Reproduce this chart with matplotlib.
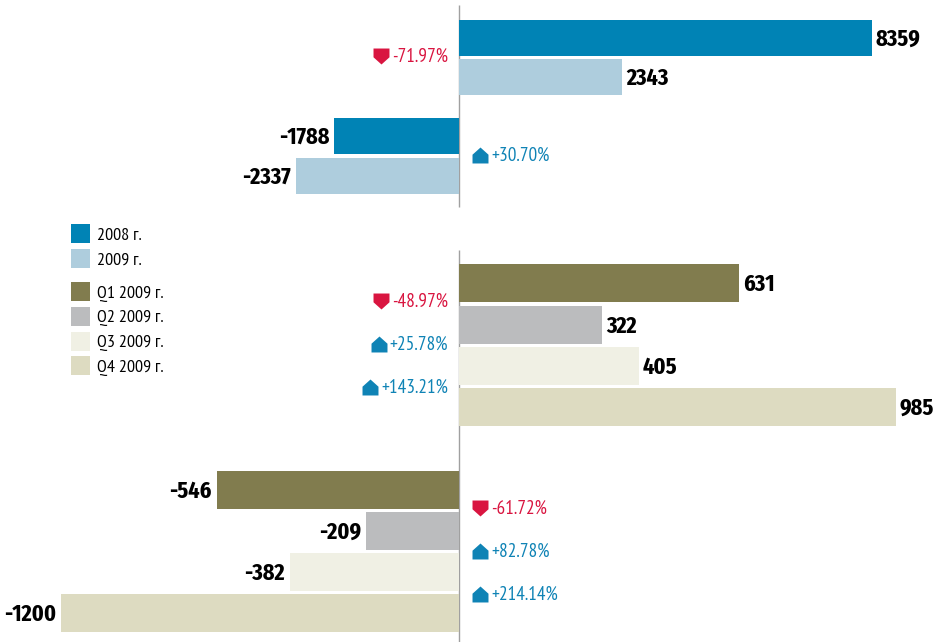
import numpy as np
import matplotlib
matplotlib.use("Agg")
import matplotlib.pyplot as plt
from matplotlib import font_manager as fm
from matplotlib.patches import Patch
from matplotlib.path import Path

# ==============================================================================
# annual results: printed values and the bar lengths as drawn in the picture
annual_values = [8359, 2343, -1788, -2337]
annual_lengths = [5925, 2343, -1788, -2337]
annual_changes = ["-71.97%", "+30.70%"]
annual_legend = ["2008 г.", "2009 г."]

# quarterly results
quarter_values = [631, 322, 405, 985, -546, -209, -382, -1200]
quarter_lengths = [631, 322, 405, 985, -546, -209, -382, -898]
quarter_changes = ["-48.97%", "+25.78%", "+143.21%", "-61.72%", "+82.78%", "+214.14%"]
quarter_legend = ["Q1 2009 г.", "Q2 2009 г.", "Q3 2009 г.", "Q4 2009 г."]

# ==============================================================================
W, H = 939, 642
ZERO_X = 459
BLUE = "#0083b5"
LIGHT_BLUE = "#aecddd"
QUARTER_COLORS = ["#817c4e", "#bbbcbe", "#f0f0e4", "#dddbc1"]
RED = "#d91540"
CHANGE_BLUE = "#0f83b5"
installed = {f.name for f in fm.fontManager.ttflist}
FONT = [f for f in ["PT Sans Narrow", "Roboto Condensed", "Liberation Sans"] if f in installed]
BOLD_FONT = [f for f in ["Fira Sans Extra Condensed", "PT Sans Narrow", "Liberation Sans"] if f in installed]

DOWN = Path([(-1, 1), (1, 1), (1, -0.1), (0, -1), (-1, -0.1), (-1, 1)], closed=True)
UP = Path([(-1, -1), (1, -1), (1, 0.1), (0, 1), (-1, 0.1), (-1, -1)], closed=True)


def make_axes(fig, px_per_unit):
    ax = fig.add_axes([0, 0, 1, 1])
    ax.patch.set_alpha(0)
    ax.set_xlim(-ZERO_X / px_per_unit, (W - ZERO_X) / px_per_unit)
    ax.set_ylim(H, 0)
    ax.axis("off")
    return ax


def draw_bars(ax, ys, heights, lengths, values, colors):
    ax.barh(ys, lengths, height=heights, color=colors, linewidth=0, zorder=2)
    for y, length, value in zip(ys, lengths, values):
        px = 4 if length > 0 else -5
        ax.annotate(str(value), (length, y), xytext=(px, -1), textcoords="offset pixels",
                    ha="left" if length > 0 else "right", va="center", fontsize=17.3,
                    fontweight="bold", family=BOLD_FONT, color="black")


def draw_changes(fig, ax, ys, changes, sides):
    for y, change, side in zip(ys, changes, sides):
        color = RED if change.startswith("-") else CHANGE_BLUE
        if side < 0:
            t = ax.annotate(change, (0, y), xytext=(-11, -1), textcoords="offset pixels",
                            ha="right", va="center", fontsize=13.9, family=FONT, color=color)
        else:
            t = ax.annotate(change, (0, y), xytext=(32, -1), textcoords="offset pixels",
                            ha="left", va="center", fontsize=13.9, family=FONT, color=color)
        bb = t.get_window_extent(fig.canvas.get_renderer())
        ax.plot([bb.x0 - 11], [H - y], marker=UP if color == CHANGE_BLUE else DOWN,
                markersize=11.5, color=color, markeredgewidth=0, zorder=3,
                transform=None)


def draw_legend(fig, labels, colors, top_px, spacing):
    handles = [Patch(facecolor=c, edgecolor="none") for c in colors]
    fs = 13
    fs_px = fs * 100 / 72
    fig.legend(handles=handles, labels=labels, loc="upper left",
               bbox_to_anchor=(71 / W, 1 - top_px / H), bbox_transform=fig.transFigure,
               frameon=False, borderpad=0, borderaxespad=0,
               handlelength=19 / fs_px, handleheight=1.24,
               handletextpad=7 / fs_px, labelspacing=(spacing - 19) / fs_px,
               prop={"family": FONT, "size": fs}, labelcolor="black")


# ==============================================================================
fig = plt.figure(figsize=(W / 100, H / 100), dpi=100)
fig.patch.set_facecolor("white")

ax_top = make_axes(fig, 0.0697)
ax_top.vlines(0, 5, 207, color="#a0a0a0", linewidth=1, zorder=1)
annual_y = np.array([38, 77, 136, 176])
annual_colors = [BLUE, LIGHT_BLUE, BLUE, LIGHT_BLUE]
draw_bars(ax_top, annual_y, 36.5, annual_lengths, annual_values, annual_colors)
draw_changes(fig, ax_top, [56, 155], annual_changes, [-1, 1])

ax_low = make_axes(fig, 0.4433)
ax_low.vlines(0, 250, 642, color="#a0a0a0", linewidth=1, zorder=1)
quarter_y = np.array([283, 325, 366, 407, 490, 531, 572, 613])
draw_bars(ax_low, quarter_y, 38, quarter_lengths, quarter_values, QUARTER_COLORS * 2)
draw_changes(fig, ax_low, [301, 344, 387, 508, 551, 594], quarter_changes, [-1, -1, -1, 1, 1, 1])

draw_legend(fig, annual_legend, [BLUE, LIGHT_BLUE], 224, 24.2)
draw_legend(fig, quarter_legend, QUARTER_COLORS, 282, 24.2)

fig.savefig("out.png", dpi=100)
